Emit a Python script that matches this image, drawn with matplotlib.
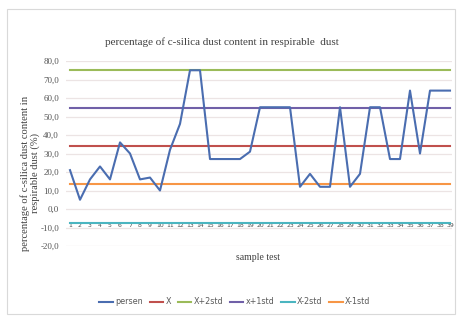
import numpy as np
import matplotlib.pyplot as plt
from matplotlib.patches import Rectangle

# sample test numbers and percentage of c-silica in respirable dust
samples = list(range(1, 40))
persen = [21, 5, 16, 23, 16, 36, 30, 16, 17, 10,
          32, 46, 75, 75, 27, 27, 27, 27, 31, 55,
          55, 55, 55, 12, 19, 12, 12, 55, 12, 19,
          55, 55, 27, 27, 64, 30, 64, 64, 64]

# control lines
mean_x = 34.0
std_x = 20.7
ref_names = ["X", "X+2std", "x+1std", "X-2std", "X-1std"]
ref_values = [mean_x, mean_x + 2 * std_x, mean_x + std_x, mean_x - 2 * std_x, mean_x - std_x]
ref_colors = ["#c0504d", "#9bbb59", "#7060a8", "#4bb5c0", "#f79646"]

y_ticks = list(range(-20, 90, 10))

fig = plt.figure(figsize=(4.58, 3.16), dpi=100)
ax = fig.add_axes([66 / 458, (316 - 246) / 316, 386 / 458, 185 / 316])

# chart border
fig.patches.append(Rectangle((7 / 458, 2 / 316), 448 / 458, 305 / 316, transform=fig.transFigure,
                             fill=False, edgecolor="#d9d9d9", linewidth=0.8))

x = np.array(samples)
ax.plot(x, persen, color="#4a6db0", linewidth=1.5, label="persen", zorder=4)
for name, val, col in zip(ref_names, ref_values, ref_colors):
    ax.plot(x, [val] * len(x), color=col, linewidth=1.5, label=name, zorder=3)

# category axis crosses at 0 (must come before tick labels, it resets ticks)
ax.spines["bottom"].set_position(("data", 0))
for sp in ax.spines.values():
    sp.set_visible(False)

ax.set_xlim(0.6, 39.2)
ax.set_ylim(-20, 80)
ax.set_yticks(y_ticks)
ax.set_yticklabels([f"{v:.1f}".replace(".", ",") for v in y_ticks],
                   family="Liberation Serif", fontsize=6.5, color="#555555")
ax.grid(axis="y", color="#ece4e4", linewidth=0.9)
ax.set_axisbelow(True)

ax.set_xticks(x)
ax.set_xticklabels([str(s) for s in samples], fontsize=4.4, color="#4a4a4a")
ax.tick_params(axis="x", length=0, pad=10)
ax.tick_params(axis="y", length=0, pad=5)

fig.text(222 / 458, 1 - 42 / 316, "percentage of c-silica dust content in respirable  dust",
         ha="center", va="center", family="Liberation Serif", fontsize=8, color="#404040")
fig.text(258 / 458, 1 - 258 / 316, "sample test", ha="center", va="center",
         family="Liberation Serif", fontsize=7, color="#404040")
fig.text(30 / 458, 1 - 173 / 316, "percentage of c-silica dust content in\nrespirable dust (%)",
         rotation=90, ha="center", va="center", family="Liberation Serif",
         fontsize=7.6, color="#404040", linespacing=1.0)

fig.legend(loc="center", bbox_to_anchor=(235 / 458, 1 - 302 / 316), ncol=6, frameon=False,
           fontsize=5.8, handlelength=1.7, handletextpad=0.3, columnspacing=0.8,
           labelcolor="#595959")

fig.savefig("out.png", dpi=100)
